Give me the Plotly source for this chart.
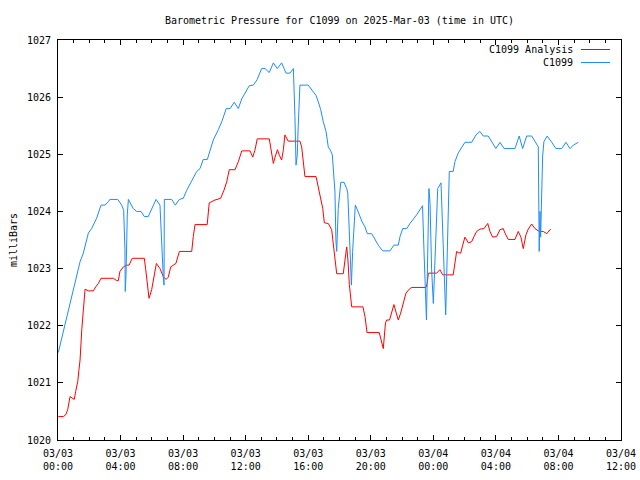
import pandas as pd
import plotly.graph_objects as go

# Hours after 2025-03-03 00:00 UTC and pressure in millibars
obs_hours = [0.02, 1.41, 1.62, 1.94, 2.15, 2.47, 2.75, 3.00, 3.22, 3.32, 3.82, 4.07, 4.20,
             4.28, 4.30, 4.35, 4.43, 4.50, 4.81, 5.03, 5.31, 5.52, 5.77, 6.09, 6.27, 6.52,
             6.63, 6.73, 6.78, 6.80, 7.27, 7.50, 7.76, 8.01, 8.23, 8.55, 8.87, 9.08, 9.29,
             9.55, 9.72, 9.93, 10.25, 10.47, 10.76, 11.01, 11.27, 11.53, 11.75, 12.04, 12.23,
             12.49, 12.74, 13.02, 13.24, 13.51, 13.77, 14.02, 14.30, 14.58, 14.83, 15.05,
             15.09, 15.15, 15.22, 15.30, 15.36, 15.47, 16.00, 16.28, 16.50, 16.64, 16.80,
             16.96, 17.14, 17.28, 17.44, 17.54, 17.60, 17.71, 17.77, 17.82, 17.92, 18.08,
             18.29, 18.46, 18.53, 18.61, 18.67, 18.76, 18.84, 18.90, 19.01, 19.14, 19.31,
             19.44, 19.63, 19.78, 20.06, 20.27, 20.48, 20.76, 21.23, 21.48, 21.76, 21.87,
             22.04, 22.30, 22.51, 22.93, 23.31, 23.40, 23.51, 23.56, 23.64, 23.72, 23.79,
             23.89, 24.00, 24.10, 24.28, 24.49, 24.64, 24.74, 24.79, 24.89, 25.02, 25.27,
             25.38, 25.59, 25.81, 26.02, 26.45, 26.73, 26.98, 27.19, 27.51, 27.73, 28.00,
             28.26, 28.52, 29.22, 29.49, 29.71, 29.97, 30.29, 30.50, 30.71, 30.77, 30.82,
             30.86, 30.93, 30.99, 31.07, 31.28, 31.57, 31.84, 32.21, 32.48, 32.74, 32.95,
             33.27]
obs_mb = [1021.53, 1023.12, 1023.27, 1023.62, 1023.70, 1023.88, 1024.11, 1024.11, 1024.17,
          1024.21, 1024.21, 1024.11, 1024.02, 1023.33, 1022.60, 1022.90, 1023.94, 1024.21,
          1024.05, 1024.00, 1024.00, 1023.91, 1023.91, 1024.11, 1024.21, 1024.11, 1023.27,
          1022.86, 1022.71, 1024.21, 1024.21, 1024.11, 1024.21, 1024.23, 1024.37, 1024.53,
          1024.70, 1024.75, 1024.91, 1024.91, 1025.08, 1025.25, 1025.43, 1025.57, 1025.80,
          1025.80, 1025.91, 1025.80, 1025.97, 1026.11, 1026.20, 1026.21, 1026.31, 1026.50,
          1026.50, 1026.43, 1026.60, 1026.50, 1026.60, 1026.42, 1026.42, 1026.50, 1026.21,
          1025.66, 1024.81, 1024.99, 1025.48, 1026.21, 1026.21, 1026.12, 1026.03, 1025.92,
          1025.78, 1025.57, 1025.40, 1025.13, 1025.06, 1024.99, 1024.75, 1024.34, 1023.50,
          1023.30, 1024.05, 1024.51, 1024.51, 1024.40, 1024.32, 1023.70, 1023.24, 1022.71,
          1023.30, 1023.59, 1024.11, 1024.03, 1023.91, 1023.82, 1023.73, 1023.61, 1023.61,
          1023.50, 1023.41, 1023.31, 1023.31, 1023.41, 1023.41, 1023.56, 1023.70, 1023.70,
          1023.79, 1023.94, 1024.10, 1023.33, 1022.36, 1022.10, 1023.24, 1024.40, 1024.14,
          1022.98, 1022.39, 1023.21, 1024.40, 1024.50, 1023.40, 1022.51, 1022.19, 1023.27,
          1024.70, 1024.70, 1024.87, 1025.02, 1025.13, 1025.21, 1025.21, 1025.34, 1025.40,
          1025.32, 1025.32, 1025.22, 1025.10, 1025.21, 1025.10, 1025.10, 1025.32, 1025.10,
          1025.32, 1025.32, 1025.22, 1025.13, 1023.30, 1024.00, 1023.55, 1024.49, 1024.97,
          1025.22, 1025.32, 1025.21, 1025.10, 1025.10, 1025.21, 1025.10, 1025.16, 1025.21]

ana_hours = [0.02, 0.34, 0.49, 0.62, 0.77, 0.91, 1.04, 1.13, 1.26, 1.34, 1.41, 1.52, 1.62,
             1.73, 1.94, 2.26, 2.41, 2.58, 2.75, 3.54, 3.75, 3.86, 3.96, 4.18, 4.39, 4.54,
             4.75, 5.52, 5.61, 5.73, 5.82, 5.99, 6.16, 6.29, 6.52, 6.73, 6.91, 7.05, 7.21,
             7.37, 7.54, 7.76, 8.55, 8.65, 8.76, 9.54, 9.67, 10.04, 10.40, 10.61, 10.79,
             10.95, 11.32, 11.53, 11.75, 12.28, 12.45, 12.60, 12.74, 13.51, 13.62, 13.77,
             13.88, 14.03, 14.16, 14.30, 14.41, 14.51, 14.72, 15.47, 15.58, 15.68, 15.79,
             16.50, 16.64, 16.80, 16.93, 17.03, 17.28, 17.50, 17.60, 17.71, 17.82, 18.24,
             18.35, 18.46, 18.54, 18.63, 18.78, 19.50, 19.63, 19.76, 20.54, 20.67, 20.80,
             20.94, 21.02, 21.20, 21.34, 21.48, 21.61, 21.76, 21.91, 22.08, 22.25, 22.46,
             22.62, 23.53, 23.61, 23.68, 24.21, 24.42, 24.60, 25.27, 25.38, 25.49, 25.59,
             25.75, 25.88, 26.02, 26.24, 26.45, 26.60, 26.77, 26.98, 27.24, 27.48, 27.62,
             27.79, 28.05, 28.26, 28.47, 28.58, 28.79, 29.22, 29.43, 29.60, 29.75, 29.92,
             30.07, 30.29, 30.50, 30.77, 31.03, 31.25, 31.50]
ana_mb = [1020.41, 1020.41, 1020.44, 1020.53, 1020.76, 1020.74, 1020.71, 1020.85, 1021.02,
          1021.23, 1021.40, 1021.93, 1022.22, 1022.64, 1022.61, 1022.61, 1022.68, 1022.74,
          1022.83, 1022.83, 1022.79, 1022.79, 1022.95, 1023.03, 1023.06, 1023.06, 1023.18,
          1023.18, 1022.98, 1022.65, 1022.48, 1022.63, 1022.89, 1023.09, 1023.00, 1022.86,
          1022.81, 1022.85, 1023.03, 1023.06, 1023.09, 1023.30, 1023.30, 1023.56, 1023.77,
          1023.77, 1024.15, 1024.20, 1024.23, 1024.37, 1024.52, 1024.73, 1024.73, 1024.87,
          1025.06, 1025.06, 1024.95, 1025.08, 1025.27, 1025.27, 1025.05, 1024.84, 1024.95,
          1025.08, 1024.98, 1024.90, 1025.08, 1025.34, 1025.23, 1025.23, 1025.13, 1024.81,
          1024.61, 1024.61, 1024.44, 1024.20, 1024.05, 1023.80, 1023.79, 1023.68, 1023.44,
          1023.15, 1022.91, 1022.91, 1023.15, 1023.38, 1023.15, 1022.72, 1022.33, 1022.33,
          1022.16, 1021.88, 1021.88, 1021.72, 1021.60, 1022.05, 1022.10, 1022.10, 1022.23,
          1022.37, 1022.24, 1022.10, 1022.22, 1022.39, 1022.57, 1022.64, 1022.67, 1022.67,
          1022.74, 1022.92, 1022.92, 1022.98, 1022.89, 1022.89, 1023.06, 1023.30, 1023.28,
          1023.27, 1023.41, 1023.55, 1023.45, 1023.47, 1023.56, 1023.65, 1023.69, 1023.70,
          1023.79, 1023.65, 1023.55, 1023.56, 1023.68, 1023.70, 1023.62, 1023.51, 1023.51,
          1023.65, 1023.55, 1023.35, 1023.59, 1023.69, 1023.78, 1023.70, 1023.65, 1023.65,
          1023.61, 1023.69]

series_names = ["C1099 Analysis", "C1099"]
series_colors = ["#ff0000", "#1e8cff"]

base = pd.Timestamp("2025-03-03 00:00")
obs_t = base + pd.to_timedelta(obs_hours, unit="h")
ana_t = base + pd.to_timedelta(ana_hours, unit="h")

FONT = "DejaVu Sans Mono"

fig = go.Figure()
fig.add_trace(go.Scatter(x=ana_t, y=ana_mb, mode="lines", name=series_names[0],
                         line=dict(color=series_colors[0], width=1)))
fig.add_trace(go.Scatter(x=obs_t, y=obs_mb, mode="lines", name=series_names[1],
                         line=dict(color=series_colors[1], width=1)))

fig.update_layout(
    width=640, height=480,
    margin=dict(l=58, r=19, t=40, b=40, autoexpand=False),
    paper_bgcolor="white", plot_bgcolor="white",
    showlegend=False,
    font=dict(family=FONT, size=10, color="black"),
    title=dict(text="Barometric Pressure for C1099 on 2025-Mar-03 (time in UTC)",
               x=0.5, xanchor="center", xref="paper",
               y=1 - 20 / 480, yref="container", yanchor="middle",
               font=dict(family=FONT, size=10, color="black"), automargin=False),
    hovermode=False,
)

fig.update_xaxes(
    type="date", automargin=False,
    range=["2025-03-03 00:00", "2025-03-04 12:00"],
    tick0="2025-03-03 00:00", dtick=4 * 3600000,
    tickformat="%m/%d<br>%H:%M",
    ticks="inside", ticklen=5, tickcolor="black", tickwidth=1,
    minor=dict(dtick=3600000, ticks="inside", ticklen=3, tickcolor="black", tickwidth=1),
    showline=True, linecolor="black", linewidth=1, mirror="allticks",
    showgrid=False, zeroline=False, ticklabelstandoff=4,
    tickfont=dict(family=FONT, size=10, color="black"),
)
fig.update_yaxes(
    range=[1020, 1027], dtick=1, tick0=1020, automargin=False,
    ticks="inside", ticklen=5, tickcolor="black", tickwidth=1,
    showline=True, linecolor="black", linewidth=1, mirror="allticks",
    showgrid=False, zeroline=False, ticklabelstandoff=4,
    title=dict(text="milliBars", standoff=7, font=dict(family=FONT, size=10, color="black")),
    tickfont=dict(family=FONT, size=10, color="black"),
)

# gnuplot-style legend: text on the left, line sample on the right
for i, (name, col) in enumerate(zip(series_names, series_colors)):
    ypix = 49.5 + 13 * i
    yp = 1 - (ypix - 40) / 400
    fig.add_annotation(xref="paper", yref="paper", x=(575 - 58) / 563, y=yp,
                       text=name, showarrow=False, xanchor="right", yanchor="middle",
                       font=dict(family=FONT, size=10, color="black"))
    fig.add_shape(type="line", xref="paper", yref="paper",
                  x0=(581 - 58) / 563, x1=(610 - 58) / 563, y0=yp, y1=yp,
                  line=dict(color=col, width=1))

fig.write_html("out.html", config={"displayModeBar": False, "staticPlot": True},
               post_script="document.body.style.margin='0';document.body.style.overflow='hidden';")
